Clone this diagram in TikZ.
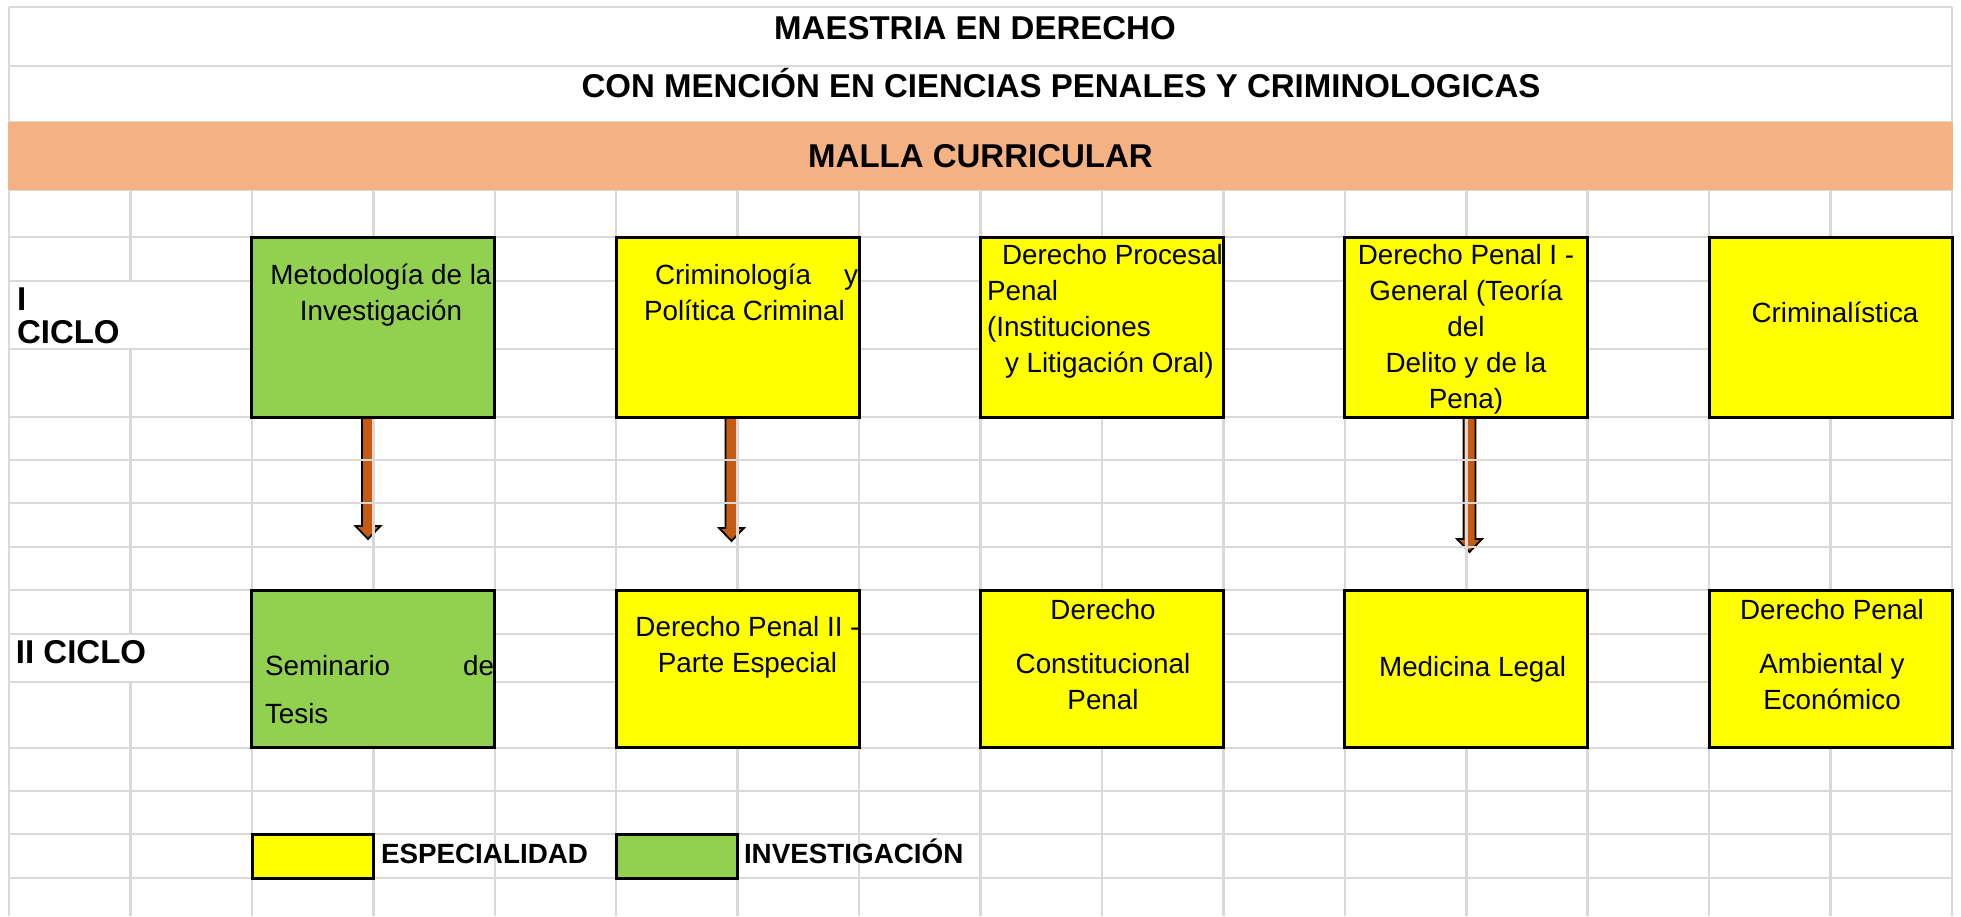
\documentclass[tikz,border=0pt]{standalone}
\usepackage{fontspec}
\setmainfont{Liberation Sans}
\usetikzlibrary{calc}

\definecolor{amarillo}{HTML}{FFFF00}
\definecolor{verde}{HTML}{92D050}
\definecolor{salmon}{HTML}{F4B183}
\definecolor{marron}{HTML}{C55A11}
\definecolor{gris}{HTML}{D9D9D9}

\newcommand{\fuentecaja}{\fontsize{27.8}{36}\selectfont}
\newcommand{\fuentetitulo}{\fontsize{33}{33}\selectfont\bfseries}
\newcommand{\fuenteleyenda}{\fontsize{27.8}{33}\selectfont\bfseries}

\pgfdeclarelayer{flechas}
\pgfdeclarelayer{rejilla}
\pgfsetlayers{flechas,rejilla,main}

% flecha gruesa: desde #1 hasta la punta #2
\newcommand{\flechabloque}[2]{%
  \draw[flechabloque] ($(#1)+(-6,0)$) -- ($(#2)+(-6,-13)$) -- ($(#2)+(-12.5,-13)$) -- (#2)
    -- ($(#2)+(12.5,-13)$) -- ($(#2)+(6,-13)$) -- ($(#1)+(6,0)$) -- cycle;}

\begin{document}
\begin{tikzpicture}[x=1pt, y=-1pt,
    every node/.style={inner sep=0pt, outer sep=0pt, text=black},
    caja/.style={draw, line width=3pt, minimum width=242.9pt, minimum height=180pt},
    caja2/.style={caja, minimum height=157.5pt},
    leyenda/.style={draw, line width=3pt, minimum width=121.4pt, minimum height=44pt},
    texto/.style={font=\fuentecaja, align=center, anchor=base},
    textoizq/.style={font=\fuentecaja, align=left, anchor=base west},
    titulo/.style={font=\fuentetitulo, anchor=base},
    rejilla/.style={draw=gris, line width=2.5pt},
    flechabloque/.style={fill=marron, draw=black, line width=1.8pt, line join=miter},
  ]
  \useasboundingbox (0,0) rectangle (1961,916);

  % rejilla de la hoja
  \begin{pgfonlayer}{rejilla}
    \foreach \y in {7,66,122,190,237,281,349,417,460,503,547,590,634,682,748,791,834,878}
      \draw[rejilla] (9,\y) -- (1952,\y);
    \foreach \k in {2,...,15}
      \draw[rejilla] ({9+121.44*\k},190) -- ({9+121.44*\k},916);
    \draw[rejilla] (9,7) -- (9,916);
    \draw[rejilla] (1952,7) -- (1952,916);
    \draw[rejilla] (130.4,190) -- (130.4,281) (130.4,349) -- (130.4,634) (130.4,682) -- (130.4,916);
  \end{pgfonlayer}

  % titulos
  \node[titulo] (tit1) at (975,39) {MAESTRIA EN DERECHO};
  \node[titulo] (tit2) at (1061,97) {CON MENCIÓN EN CIENCIAS PENALES Y CRIMINOLOGICAS};
  \node[font=\fuentetitulo, fill=salmon, minimum width=1945pt, minimum height=68pt] (malla) at (980.5,156) {MALLA CURRICULAR};

  \node[titulo, align=left, anchor=base west] (ciclo1) at (17,343) {I\\CICLO};
  \node[titulo, anchor=base west] (ciclo2) at (16,663) {II CICLO};

  % I ciclo
  \node[caja, fill=verde] (metod) at (373.35,327) {};
  \node[caja, fill=amarillo] (crimi) at (737.65,327) {};
  \node[caja, fill=amarillo] (proc) at (1101.95,327) {};
  \node[caja, fill=amarillo] (penal1) at (1466.25,327) {};
  \node[caja, fill=amarillo] (crimin) at (1830.6,327) {};

  \node[texto] (metod-t) at (381,320) {Metodología de la\\Investigación};
  \node[textoizq] (crimi-t) at (644,320) {\hspace*{11pt}\makebox[203pt][l]{Criminología\hfill y}\\Política Criminal};
  \node[textoizq] (proc-t) at (987,372.7) {\hspace*{15pt}Derecho Procesal\\Penal\\(Instituciones\\\hspace*{18pt}y Litigación Oral)};
  \node[texto] (penal1-t) at (1466,408) {Derecho Penal I -\\General (Teoría\\del\\Delito y de la\\Pena)};
  \node[texto] (crimin-t) at (1835,322) {Criminalística};

  % II ciclo
  \node[caja2, fill=verde] (semin) at (373.35,668.75) {};
  \node[caja2, fill=amarillo] (penal2) at (737.65,668.75) {};
  \node[caja2, fill=amarillo] (const) at (1101.95,668.75) {};
  \node[caja2, fill=amarillo] (medic) at (1466.25,668.75) {};
  \node[caja2, fill=amarillo] (ambi) at (1830.6,668.75) {};

  \node[textoizq] (semin-t) at (265,723) {\makebox[229pt][l]{Seminario\hfill de}\\[12pt]Tesis};
  \node[texto] (penal2-t) at (747.5,672) {Derecho Penal II -\\Parte Especial};
  \node[texto] (const-t) at (1103,709) {Derecho\\[18pt]Constitucional\\Penal};
  \node[texto] (medic-t) at (1472.6,676) {Medicina Legal};
  \node[texto] (ambi-t) at (1832,709) {Derecho Penal\\[18pt]Ambiental y\\Económico};

  % leyenda
  \node[leyenda, fill=amarillo] (ley-esp) at (313.1,856) {};
  \node[font=\fuenteleyenda, anchor=base west] (esp-t) at (381,863) {ESPECIALIDAD};
  \node[leyenda, fill=verde] (ley-inv) at (676.9,856) {};
  \node[font=\fuenteleyenda, anchor=base west] (inv-t) at (744,863) {INVESTIGACIÓN};

  % flechas
  \coordinate (p1) at (368,539);
  \coordinate (p2) at (731.5,541);
  \coordinate (p3) at (1469.5,552);
  \coordinate (s1) at (metod.south -| p1);
  \coordinate (s2) at (crimi.south -| p2);
  \coordinate (s3) at (penal1.south -| p3);
  \begin{pgfonlayer}{flechas}
    \flechabloque{s1}{p1}
    \flechabloque{s2}{p2}
    \flechabloque{s3}{p3}
  \end{pgfonlayer}

\end{tikzpicture}
\end{document}
